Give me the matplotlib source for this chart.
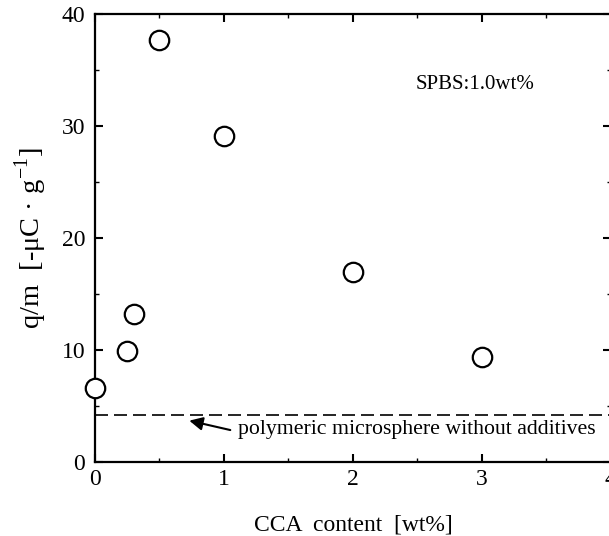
import matplotlib
matplotlib.use('Agg')
import matplotlib.pyplot as plt
from matplotlib.ticker import MultipleLocator

plt.rcParams['font.family'] = ['Liberation Serif', 'DejaVu Serif']
plt.rcParams['mathtext.fontset'] = 'custom'
plt.rcParams['mathtext.rm'] = 'Liberation Serif'

# CCA content [wt%] and charge per mass
cca = [0.0, 0.25, 0.3, 0.5, 1.0, 2.0, 3.0]
qm = [6.6, 9.9, 13.2, 37.7, 29.1, 17.0, 9.4]
baseline = 4.2  # microsphere without additives

xticks = [0, 1, 2, 3, 4]
yticks = [0, 10, 20, 30, 40]

fig = plt.figure(figsize=(6.09, 5.36), dpi=100)
ax = fig.add_axes([0.156, 0.138, 0.847, 0.836])

ax.plot(cca, qm, 'o', mfc='white', mec='black', ms=14, mew=1.6, clip_on=False, zorder=3)
ax.axhline(baseline, color='black', lw=1.2, ls=(0, (7.8, 3.6)))

ax.annotate('', xy=(0.71, 3.75), xytext=(1.07, 2.8),
            arrowprops=dict(arrowstyle='-|>', color='black', lw=1.5, mutation_scale=20))
ax.text(1.11, 2.9, 'polymeric microsphere without additives', fontsize=15.7, va='center', ha='left')
ax.text(2.49, 33.7, 'SPBS:1.0wt%', fontsize=15, va='center', ha='left')

ax.set_xlim(0, 4)
ax.set_ylim(0, 40)
ax.set_xticks(xticks)
ax.set_yticks(yticks)
ax.xaxis.set_minor_locator(MultipleLocator(0.5))
ax.yaxis.set_minor_locator(MultipleLocator(5))
ax.tick_params(which='both', direction='in', top=True, right=True, labelsize=17)
ax.tick_params(which='major', length=6, width=1.5)
ax.tick_params(which='minor', length=3, width=1.0)
ax.tick_params(axis='x', pad=5)
ax.tick_params(axis='y', pad=7)
for s in ax.spines.values():
    s.set_linewidth(1.6)

ax.set_xlabel('CCA  content  [wt%]', fontsize=17, labelpad=18)
ax.set_ylabel(r'q/m  [-μC · g$^{\mathregular{-1}}$]', fontsize=20.5, labelpad=9)

fig.savefig('out.png', dpi=100)
